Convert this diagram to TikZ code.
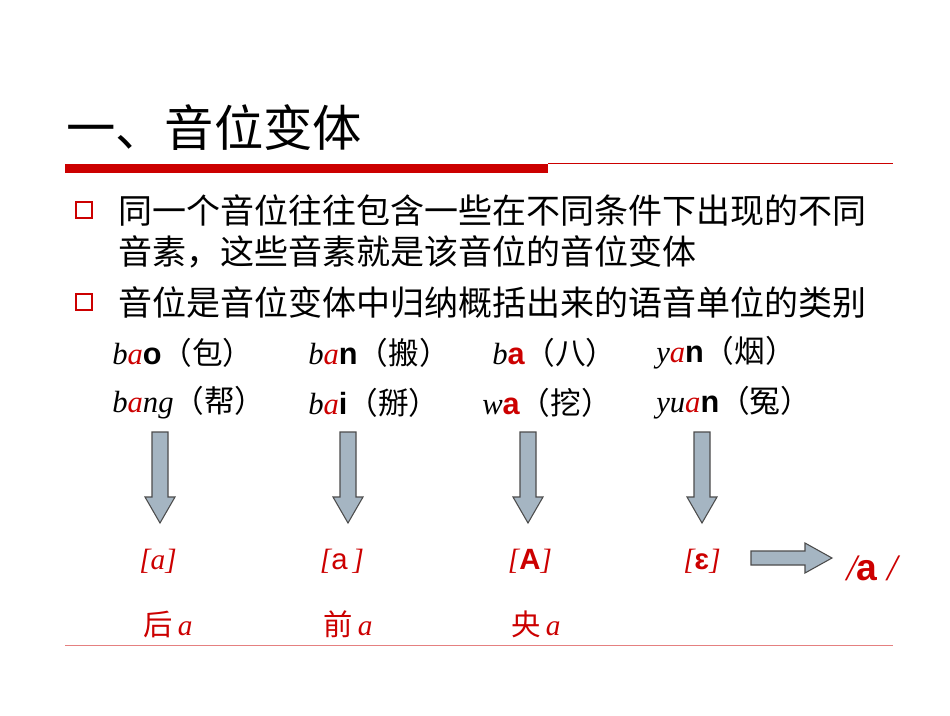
\documentclass[tikz,border=0pt]{standalone}
\usepackage{fontspec}
\setmainfont{Liberation Serif}
\newfontfamily\cjk{Noto Sans CJK SC}
\newfontfamily\sans{Liberation Sans}
\definecolor{rd}{HTML}{CC0000}
\definecolor{ag}{HTML}{A5B5C2}
\begin{document}
\begin{tikzpicture}[x=0.75pt,y=-0.75pt,
  txt/.style={anchor=west,inner sep=0pt,font=\cjk\fontsize{25.5}{30}\selectfont},
  py/.style={anchor=west,inner sep=0pt,font=\fontsize{23}{27}\selectfont},
  lab/.style={inner sep=0pt,text=rd,font=\fontsize{22}{26}\selectfont},
  darr/.style={fill=ag,draw=black!70,line width=0.8pt},
  bul/.style={draw=rd,line width=1.5pt,minimum size=12pt,inner sep=0pt}]
\useasboundingbox (0,0) rectangle (950,715);
\fill[white] (0,0) rectangle (950,715);
\node[anchor=west,inner sep=0pt,font=\cjk\fontsize{37}{42}\selectfont] (title) at (66,128) {一、音位变体};
\fill[rd] (65,164) rectangle (548,173);
\draw[rd,line width=0.6pt] (548,163) -- (893,163);
\node[bul] (b1) at (84,210) {};
\node[bul] (b2) at (84,302) {};
\node[txt] (t1) at (118,210) {同一个音位往往包含一些在不同条件下出现的不同};
\node[txt] (t2) at (118,252) {音素，这些音素就是该音位的音位变体};
\node[txt] (t3) at (118,302) {音位是音位变体中归纳概括出来的语音单位的类别};
\node[py] (p1) at (112,353) {\itshape b\textcolor{rd}{a}\upshape\sans\bfseries o\cjk\mdseries（包）};
\node[py] (p2) at (308,353) {\itshape b\textcolor{rd}{a}\upshape\sans\bfseries n\cjk\mdseries（搬）};
\node[py] (p3) at (492,353) {\itshape b\upshape\sans\bfseries\textcolor{rd}{a}\cjk\mdseries（八）};
\node[py] (p4) at (656,353) {\itshape y\textcolor{rd}{a}\upshape\sans\bfseries n\cjk\mdseries（烟）};
\node[py] (q1) at (112,403) {\itshape b\textcolor{rd}{a}ng\upshape\cjk（帮）};
\node[py] (q2) at (308,403) {\itshape b\textcolor{rd}{a}\upshape\sans\bfseries i\cjk\mdseries（掰）};
\node[py] (q3) at (482,403) {\itshape w\upshape\sans\bfseries\textcolor{rd}{a}\cjk\mdseries（挖）};
\node[py] (q4) at (656,403) {\itshape yu\textcolor{rd}{a}\upshape\sans\bfseries n\cjk\mdseries（冤）};
\foreach \n/\x in {d1/160,d2/348,d3/528,d4/702}{
  \draw[darr] (\x-8,432) -- (\x+8,432) -- (\x+8,497) -- (\x+15,497) -- (\x,523) -- (\x-15,497) -- (\x-8,497) -- cycle;
  \coordinate (\n) at (\x,523);
}
\draw[darr] (751,551) -- (805,551) -- (805,543) -- (832,558) -- (805,573) -- (805,565) -- (751,565) -- cycle;
\node[lab] (l1) at (158,561) {\itshape [a]};
\node[lab] (l2) at (342,561) {\itshape [\upshape\sans a\itshape\rmfamily\,]};
\node[lab] (l3) at (530,561) {\itshape [\upshape\sans\bfseries A\itshape\rmfamily\mdseries]};
\node[lab] (l4) at (702,561) {\itshape [\upshape\sans\bfseries ɛ\itshape\rmfamily\mdseries]};
\node[lab,font=\fontsize{28}{32}\selectfont] (ph) at (872,568) {\itshape /\upshape\sans\bfseries a\itshape\rmfamily\mdseries\ /};
\node[lab] (c1) at (168,624) {\cjk 后\,\itshape\rmfamily a};
\node[lab] (c2) at (348,624) {\cjk 前\,\itshape\rmfamily a};
\node[lab] (c3) at (536,624) {\cjk 央\,\itshape\rmfamily a};
\draw[rd!50,line width=0.6pt] (65,645) -- (893,645);
\end{tikzpicture}
\end{document}
